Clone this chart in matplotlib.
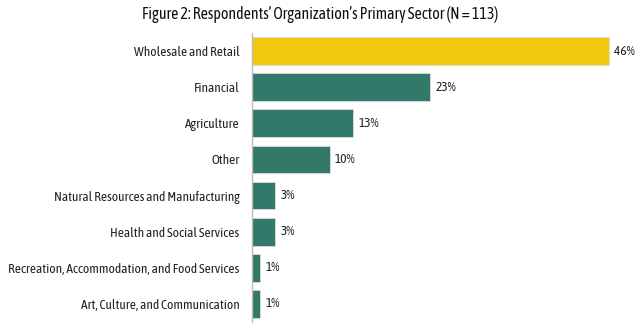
import matplotlib
matplotlib.use("Agg")
import matplotlib.pyplot as plt

sectors = ["Wholesale and Retail", "Financial", "Agriculture", "Other",
           "Natural Resources and Manufacturing", "Health and Social Services",
           "Recreation, Accommodation, and Food Services",
           "Art, Culture, and Communication"]
shares = [46, 23, 13, 10, 3, 3, 1, 1]
bar_colors = ["#F2C811"] + ["#32796A"] * 7

plt.rcParams["font.family"] = ["Asap Condensed", "DejaVu Sans"]
fs = 9.6

fig = plt.figure(figsize=(6.4, 3.24), dpi=100)
ax = fig.add_axes([252 / 640, 2 / 324, 388 / 640, 289 / 324])

ypos = list(range(len(sectors)))
ax.barh(ypos, shares, height=0.77, color=bar_colors,
        edgecolor="#dddddd", linewidth=0.6)
for y, v in zip(ypos, shares):
    ax.text(v + 0.7, y, f"{v}%", va="center", ha="left", fontsize=fs,
            color="#222222")

ax.set_xlim(0, 50)
ax.set_ylim(len(sectors) - 0.5, -0.5)
ax.set_yticks(ypos)
ax.set_yticklabels(sectors, fontsize=fs, color="#222222")
ax.tick_params(axis="y", length=0, pad=9)
ax.set_xticks([])
for side in ["top", "right", "bottom"]:
    ax.spines[side].set_visible(False)
ax.spines["left"].set_color("#bbbbbb")
ax.spines["left"].set_linewidth(1)

fig.text(0.5, 0.955, "Figure 2: Respondents\u2019 Organization\u2019s Primary Sector (N = 113)",
         ha="center", va="center", fontsize=11.4, color="#111111")

fig.savefig("out.png", dpi=100)
